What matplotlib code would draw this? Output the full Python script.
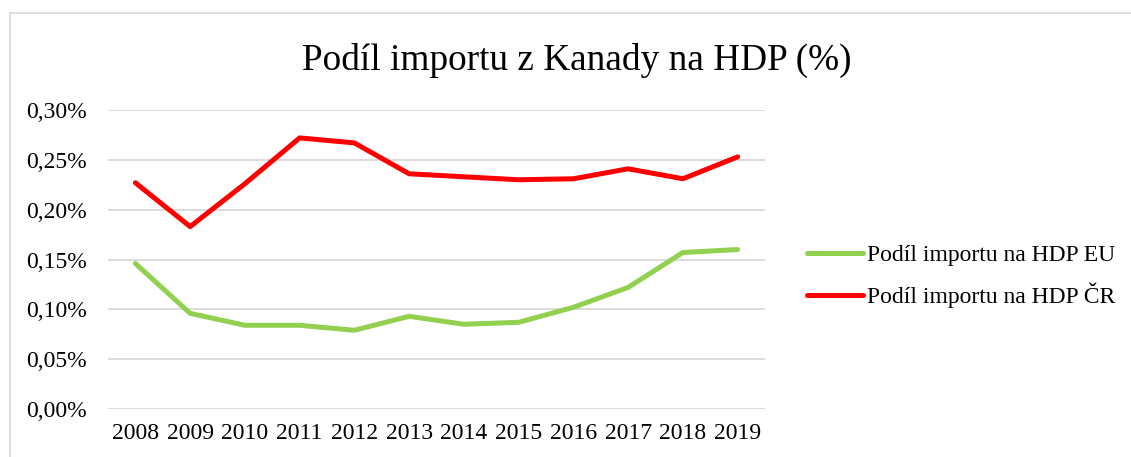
import matplotlib
matplotlib.use("Agg")
import matplotlib.pyplot as plt
from matplotlib.lines import Line2D
from matplotlib.ticker import FuncFormatter

years = ["2008", "2009", "2010", "2011", "2012", "2013", "2014", "2015", "2016", "2017", "2018", "2019"]
eu_share = [0.146, 0.096, 0.084, 0.084, 0.079, 0.093, 0.085, 0.087, 0.102, 0.122, 0.157, 0.160]
cr_share = [0.227, 0.183, 0.226, 0.272, 0.267, 0.236, 0.233, 0.230, 0.231, 0.241, 0.231, 0.253]
series_labels = ["Podíl importu na HDP EU", "Podíl importu na HDP ČR"]
title = "Podíl importu z Kanady na HDP (%)"

plt.rcParams['font.family'] = ['Liberation Serif', 'DejaVu Serif']

W, H = 1131, 457
fig = plt.figure(figsize=(W / 100, H / 100), dpi=100)
ax = fig.add_axes([108 / W, 48 / H, 657 / W, 299 / H])

x = list(range(len(years)))
ax.plot(x, eu_share, color="#92D050", lw=3.6, solid_capstyle="round", solid_joinstyle="round", label=series_labels[0])
ax.plot(x, cr_share, color="#FF0000", lw=3.6, solid_capstyle="round", solid_joinstyle="round", label=series_labels[1])

ax.set_xlim(-0.5, len(years) - 0.5)
ax.set_ylim(0, 0.30)
ax.set_yticks([0, 0.05, 0.10, 0.15, 0.20, 0.25, 0.30])
ax.yaxis.set_major_formatter(FuncFormatter(lambda v, p: f"{v:.2f}%".replace(".", ",")))
ax.set_xticks(x)
ax.set_xticklabels(years)
ax.grid(axis="y", color="#D9D9D9", lw=1.3)
ax.set_axisbelow(True)
for s in ax.spines.values():
    s.set_visible(False)
ax.tick_params(axis="both", length=0, labelsize=17, colors="black")
ax.tick_params(axis="y", pad=15)
ax.tick_params(axis="x", pad=10)

fig.text(577 / W, 1 - 60 / H, title, ha="center", va="center", fontsize=26.8)

fig.legend(loc="center left", bbox_to_anchor=(795 / W, 1 - 276.5 / H), frameon=False, borderpad=0,
           fontsize=17, handlelength=2.4, handletextpad=0.17, labelspacing=0.7)

# chart frame
fig.add_artist(Line2D([10 / W, 10 / W], [0, 1 - 13 / H], color="#D9D9D9", lw=1.2, transform=fig.transFigure))
fig.add_artist(Line2D([10 / W, 1], [1 - 13 / H, 1 - 13 / H], color="#D9D9D9", lw=1.2, transform=fig.transFigure))

fig.savefig("out.png", dpi=100)
